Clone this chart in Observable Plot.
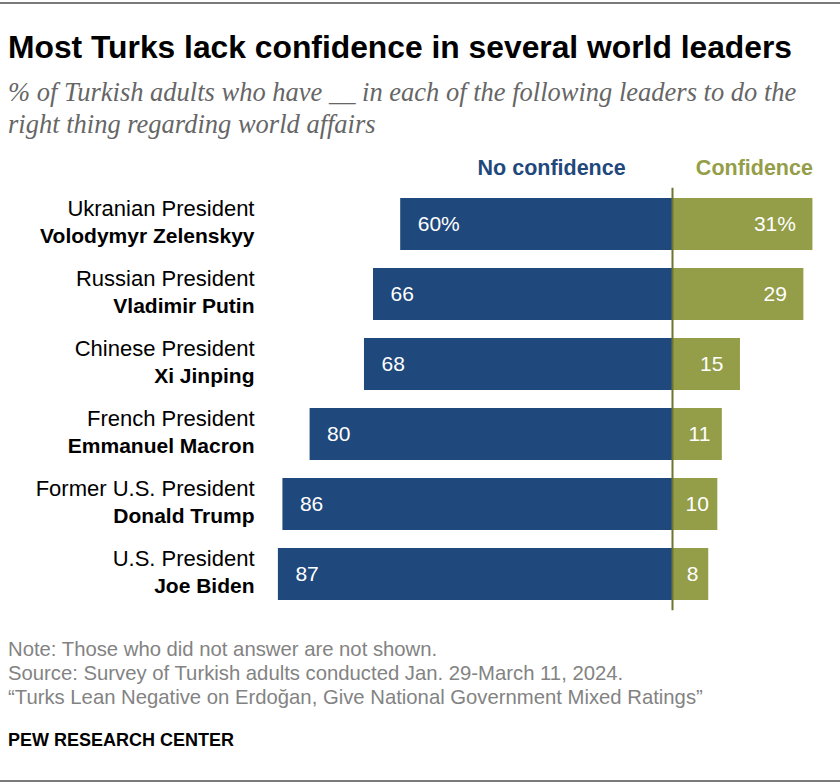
<!DOCTYPE html>
<html>
<head>
<meta charset="utf-8">
<script src="https://cdn.jsdelivr.net/npm/d3@7"></script>
<script src="https://cdn.jsdelivr.net/npm/@observablehq/plot@0.6"></script>
<style>
  html, body { margin: 0; padding: 0; background: #fff; }
  #page { position: relative; width: 840px; height: 784px; overflow: hidden; font-family: "Liberation Sans", Arial, sans-serif; }
  .rule { position: absolute; left: 0; width: 840px; height: 2px; background: #7a7a7a; }
  #title { position: absolute; left: 8px; top: 29px; font-family: "Liberation Sans Narrow", "Liberation Sans", sans-serif; font-weight: bold; font-size: 31.8px; color: #000; white-space: nowrap; }
  #subtitle { position: absolute; left: 8px; top: 76px; font-family: "Liberation Serif", serif; font-style: italic; font-size: 26.5px; line-height: 32px; color: #666; white-space: nowrap; }
  #chart { position: absolute; left: 0; top: 145px; }
  #notes { position: absolute; left: 8px; top: 637px; font-family: "Liberation Sans Narrow", "Liberation Sans", sans-serif; font-size: 20.3px; line-height: 24px; color: #838383; white-space: nowrap; }
  #brand { position: absolute; left: 8px; top: 730px; font-family: "Liberation Sans Narrow", "Liberation Sans", sans-serif; font-weight: bold; font-size: 18px; color: #000; }
</style>
</head>
<body>
<div id="page">
  <div class="rule" style="top:2px"></div>
  <div id="title">Most Turks lack confidence in several world leaders</div>
  <div id="subtitle">% of Turkish adults who have __ in each of the following leaders to do the<br>right thing regarding world affairs</div>
  <div id="chart"></div>
  <div id="notes">Note: Those who did not answer are not shown.<br>Source: Survey of Turkish adults conducted Jan. 29-March 11, 2024.<br>“Turks Lean Negative on Erdoğan, Give National Government Mixed Ratings”</div>
  <div id="brand">PEW RESEARCH CENTER</div>
  <div class="rule" style="top:780px"></div>
</div>
<script>
const roles = ["Ukranian President", "Russian President", "Chinese President", "French President", "Former U.S. President", "U.S. President"];
const leaders = ["Volodymyr Zelenskyy", "Vladimir Putin", "Xi Jinping", "Emmanuel Macron", "Donald Trump", "Joe Biden"];
const noConfidence = [60, 66, 68, 80, 86, 87];
const confidence = [31, 29, 15, 11, 10, 8];
const seriesNames = ["No confidence", "Confidence"];

const BLUE = "#1f487c";
const OLIVE = "#949d48";

const rows = leaders.map((name, i) => ({
  name, role: roles[i], no: noConfidence[i], yes: confidence[i], first: i === 0
}));
const fmt = d => v => d.first ? v + "%" : String(v);
const bigYes = rows.filter(d => d.yes >= 12);
const smallYes = rows.filter(d => d.yes < 12);

const chart = Plot.plot({
  width: 840,
  height: 480,
  marginTop: 42.8,
  marginBottom: 14.8,
  marginLeft: 264.3,
  marginRight: 9.45,
  style: { fontFamily: "'Liberation Sans', Arial, sans-serif", background: "transparent" },
  x: { domain: [-90, 35], axis: null },
  y: { domain: leaders, axis: null, paddingInner: 0.26, paddingOuter: 0.13 },
  marks: [
    Plot.barX(rows, { y: "name", x1: d => -d.no, x2: 0, fill: BLUE, inset: 0 }),
    Plot.barX(rows, { y: "name", x1: 0, x2: "yes", fill: OLIVE, inset: 0 }),
    Plot.ruleX([0], { stroke: "#6f7530", strokeWidth: 2 }),
    Plot.text(rows, { y: "name", x: d => -d.no, text: d => fmt(d)(d.no), textAnchor: "start", dx: 17, fill: "#fff", fontSize: 21 }),
    Plot.text(bigYes, { y: "name", x: "yes", text: d => fmt(d)(d.yes), textAnchor: "end", dx: -17, fill: "#fff", fontSize: 21 }),
    Plot.text(smallYes, { y: "name", x: d => d.yes / 2, text: d => fmt(d)(d.yes), textAnchor: "middle", dx: 2, fill: "#fff", fontSize: 21 }),
    Plot.text(rows, { y: "name", frameAnchor: "left", text: "role", textAnchor: "end", dx: -10.3, dy: -16, fontSize: 22, fill: "#000" }),
    Plot.text(rows, { y: "name", frameAnchor: "left", text: "name", textAnchor: "end", dx: -10.3, dy: 12, fontSize: 21, fontWeight: "bold", fill: "#000" }),
    Plot.text([rows[0]], { y: "name", x: d => -d.no / 2, text: () => seriesNames[0], textAnchor: "middle", dx: 15, dy: -56, fontSize: 21.5, fontWeight: "bold", fill: BLUE }),
    Plot.text([rows[0]], { y: "name", x: "yes", text: () => seriesNames[1], textAnchor: "end", dy: -56, fontSize: 21.5, fontWeight: "bold", fill: OLIVE })
  ]
});
document.getElementById("chart").appendChild(chart);
</script>
</body>
</html>
